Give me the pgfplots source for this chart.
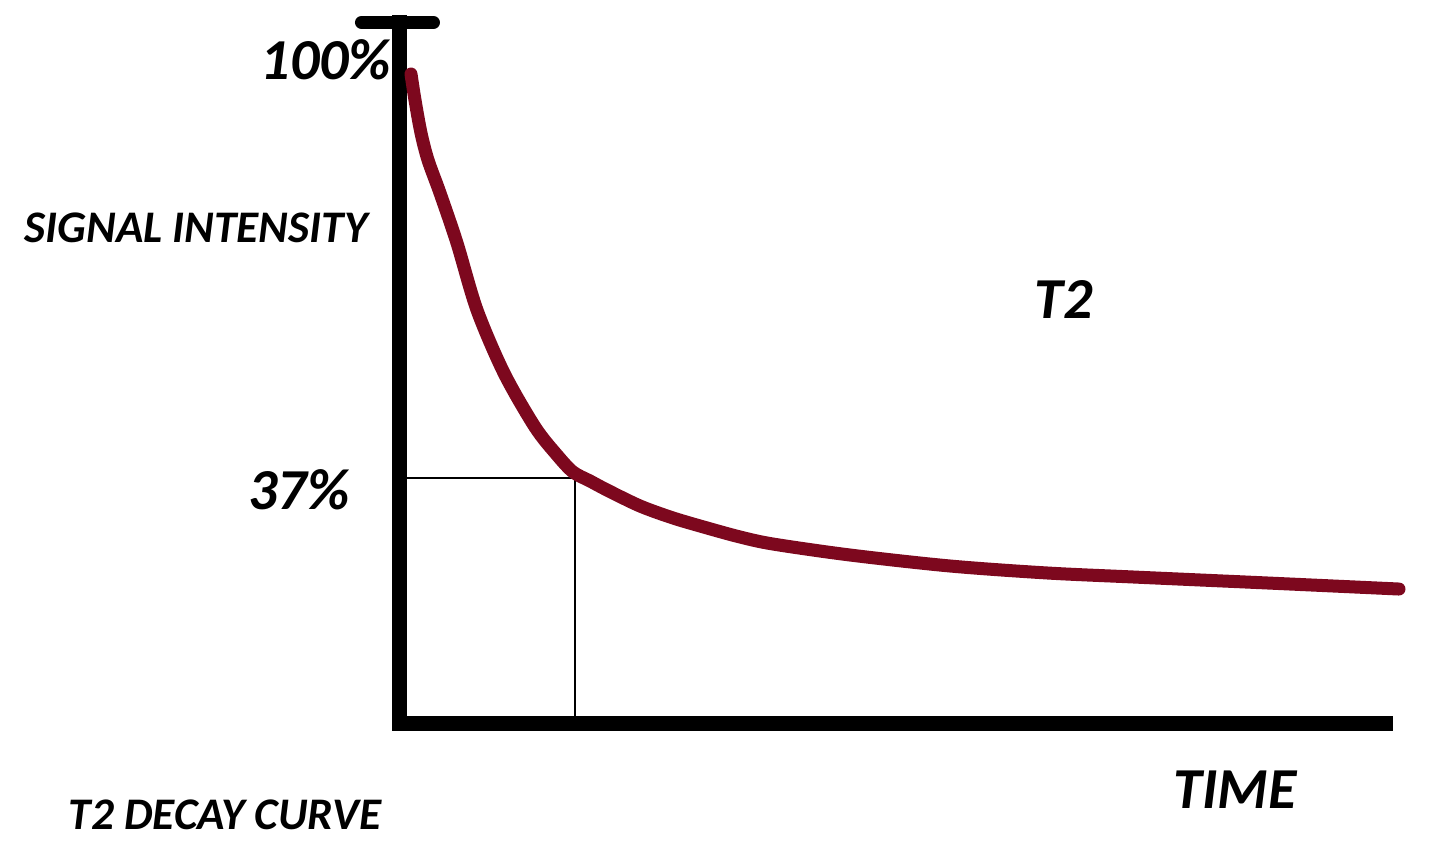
\documentclass[border=0pt]{standalone}
\usepackage{pgfplots}
\pgfplotsset{compat=1.18}
\usepackage{fontspec}
\setmainfont{Carlito}
\definecolor{curvered}{RGB}{125,8,30}
\begin{document}
\begin{tikzpicture}
\begin{axis}[
  scale only axis,
  width=492.75pt, height=350.25pt,
  xmin=0, xmax=5.6314,
  ymin=0, ymax=106.46,
  axis lines=left,
  axis line style={-, line width=7.5pt, line cap=rect, black},
  xtick=\empty, ytick=\empty,
  clip=false,
  font=\bfseries\itshape,
]
% bounding box of the whole picture
\path (axis cs:-2.285714,-18.541) rectangle (axis cs:5.942857,109.878);
% top cap of the vertical axis
\draw[line width=6.5pt, line cap=round, black] (axis cs:-0.22,106.46) -- (axis cs:0.1914,106.46);
% 37% guide lines
\addplot[black, line width=0.9pt, sharp plot, mark=none] coordinates {(0,37.2) (1,37.2) (1,0)};
% T2 decay curve
\addplot[curvered, line width=6.5pt, line cap=round, line join=round, smooth, tension=0.5, mark=none] coordinates {
(0.0629,98.63)
(0.0857,94.68)
(0.12,89.67)
(0.16,85.56)
(0.2286,80.55)
(0.3257,72.95)
(0.44,62.77)
(0.5943,53.19)
(0.7714,44.98)
(0.8971,40.73)
(0.9886,38.15)
(1.0857,36.78)
(1.1829,35.41)
(1.3714,32.98)
(1.56,31.16)
(1.7543,29.64)
(1.9429,28.27)
(2.1314,27.20)
(2.5714,25.53)
(3.1429,23.86)
(3.6971,22.80)
(4.1886,22.19)
(4.9543,21.28)
(5.7086,20.36)
};
% labels
\node[font=\fontsize{29}{32}\selectfont\bfseries\itshape] at (axis cs:-0.4229,100.76) {100\%};
\node[font=\fontsize{29}{32}\selectfont\bfseries\itshape] at (axis cs:-0.5771,35.41) {37\%};
\node[font=\fontsize{29}{32}\selectfont\bfseries\itshape] at (axis cs:3.7943,64.29) {T2};
\node[font=\fontsize{29}{32}\selectfont\bfseries\itshape] at (axis cs:4.7714,-10.18) {TIME};
\node[font=\fontsize{22.6}{25}\selectfont\bfseries\itshape] at (axis cs:-1.1657,75.23) {SIGNAL INTENSITY};
\node[font=\fontsize{22.6}{25}\selectfont\bfseries\itshape] at (axis cs:-1.0,-13.98) {T2 DECAY CURVE};
\end{axis}
\end{tikzpicture}
\end{document}
